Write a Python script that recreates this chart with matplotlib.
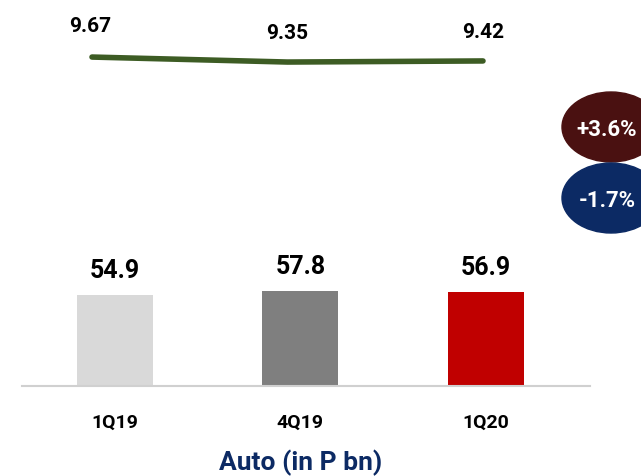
import matplotlib
matplotlib.use("Agg")
import matplotlib.pyplot as plt
from matplotlib.patches import Ellipse

plt.rcParams['font.family'] = ['Roboto', 'DejaVu Sans']
plt.rcParams['font.weight'] = 'bold'

# data
quarters = ['1Q19', '4Q19', '1Q20']
auto_loans = [54.9, 57.8, 56.9]
yield_pct = [9.67, 9.35, 9.42]
changes = ['+3.6%', '-1.7%']
bar_colors = ['#d9d9d9', '#7f7f7f', '#c00000']
badge_colors = ['#4a1111', '#0c2a64']

W, H = 641, 477
fig = plt.figure(figsize=(W / 100, H / 100), dpi=100)

def px_axes(left, top, width, height):
    return fig.add_axes([left / W, 1 - (top + height) / H, width / W, height / H])

# bars
ax = px_axes(22, 222, 568, 165)
xs = range(len(quarters))
ax.bar(xs, auto_loans, width=0.41, color=bar_colors, zorder=2)
for x, v in zip(xs, auto_loans):
    ax.annotate(f'{v:.1f}', (x, v), xytext=(0, 18), textcoords='offset points',
                ha='center', va='center', fontsize=18, fontweight='bold')
ax.set_xlim(-0.501, 2.561)
ax.set_ylim(0, 100)
ax.set_xticks(list(xs))
ax.set_xticklabels(quarters, fontsize=14, fontweight='bold')
ax.tick_params(axis='x', length=0, pad=19)
ax.set_yticks([])
for s in ['top', 'right', 'left']:
    ax.spines[s].set_visible(False)
ax.spines['bottom'].set_color('#d0d0d0')
ax.spines['bottom'].set_linewidth(1.5)
ax.patch.set_alpha(0)

# yield line
lx = px_axes(92, 0, 391, 120)
lx.plot(range(len(yield_pct)), yield_pct, color='#3d5c24', lw=4,
        solid_capstyle='round', clip_on=False)
for x, v in enumerate(yield_pct):
    lx.annotate(f'{v:.2f}', (x, v), xytext=(-1 if x == 0 else 0, 23 if x == 0 else 21),
                textcoords='offset points', ha='center', va='center',
                fontsize=15, fontweight='bold')
lx.set_xlim(0, 2)
lx.set_ylim(5.70, 13.39)
lx.axis('off')

# change badges
ov = fig.add_axes([0, 0, 1, 1])
ov.set_xlim(0, W)
ov.set_ylim(H, 0)
ov.axis('off')
for (cy, txt, col) in zip([128, 199], changes, badge_colors):
    ov.add_patch(Ellipse((611, cy), 98, 70, color=col))
    ov.text(607, cy + 2, txt, color='white', fontsize=16, fontweight='bold',
            ha='center', va='center')

fig.text(301 / W, 1 - 463 / H, 'Auto (in P bn)', color='#0c2a64',
         fontsize=19, fontweight='bold', ha='center', va='center')

fig.savefig('out.png', dpi=100)
